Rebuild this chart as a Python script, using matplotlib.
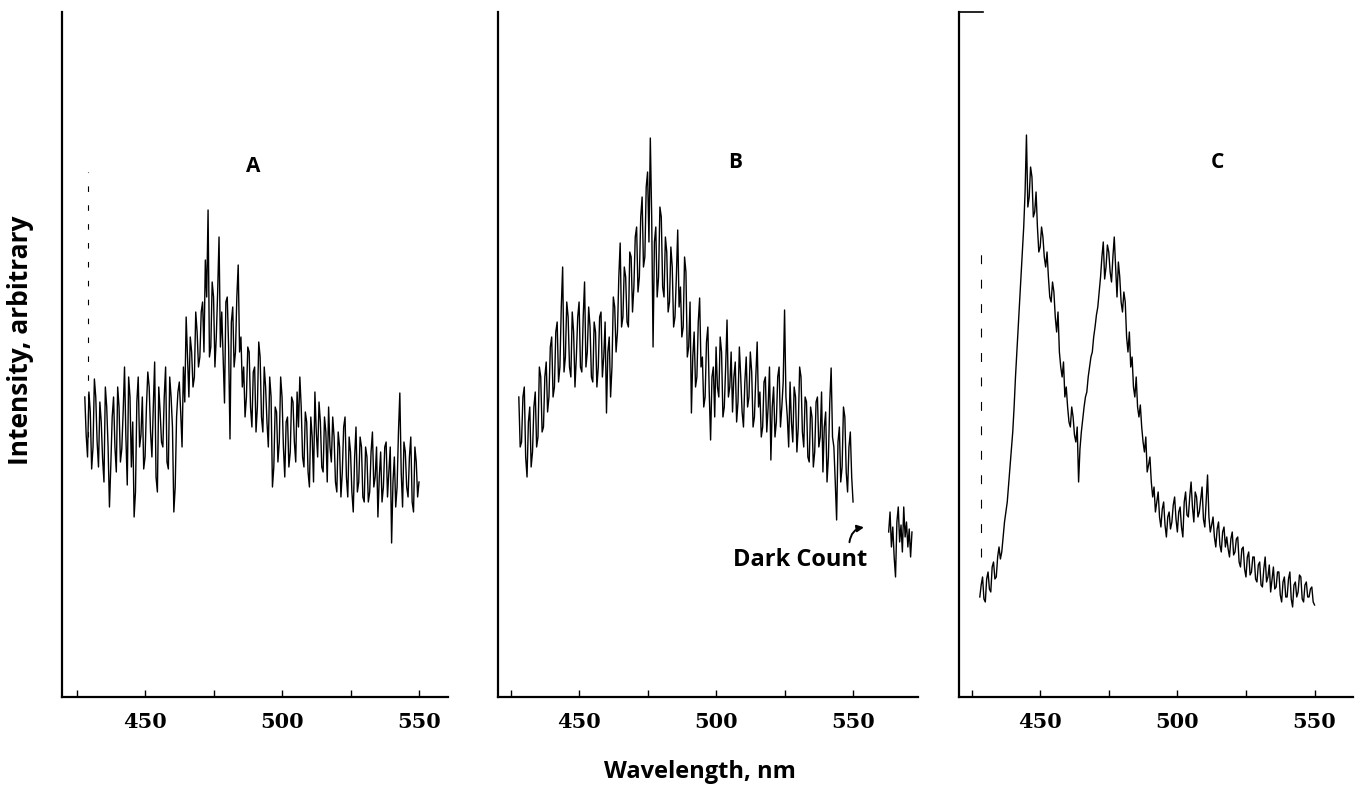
"""Emission spectra A/B/C (intensity vs wavelength), three side-by-side panels."""
import numpy as np
import matplotlib
matplotlib.use("Agg")
import matplotlib.pyplot as plt

# wavelength grid (nm), readings every 0.5 nm
wl = np.arange(428, 550.5, 0.5)

# panel A counts (arbitrary units), pairs = one nm
counts_a = [
    300, 262, 240, 305, 285, 228, 250, 318, 300, 255, 230, 295, 275, 238, 215, 310,
    290, 250, 190, 232, 280, 300,
    250, 225, 310, 290, 235, 248, 285, 330, 260, 212, 320, 300, 230, 275, 180, 205,
    295, 320, 250, 262, 300, 228, 240, 290, 325, 310, 265, 240, 290, 335, 220, 205,
    310, 285, 255, 250, 300, 330, 235, 228, 320, 300, 270, 185, 210, 280, 305, 315,
    285, 250, 330, 295, 380, 340, 300, 360, 345, 310, 320, 385,
    365, 330, 340, 385, 395, 345, 437, 400, 487, 340, 350, 415, 400, 330, 360, 405,
    460, 350,
    385, 340, 294, 395, 400, 350, 258, 375, 390, 330, 345, 400, 432, 345, 360, 310,
    330, 280, 300, 350, 345, 290, 270, 325, 330, 265, 290, 355, 340, 280,
    265, 330, 310, 275, 250, 320, 300, 210,
    230, 290, 285, 235, 255, 320, 300, 250, 220, 275, 280, 230, 245, 300, 295, 255,
    235, 305, 270, 320, 290, 240,
    230, 285, 275, 225, 210, 280, 260, 215, 305, 265, 240, 295, 275, 230, 225, 280,
    265, 215, 290, 250, 235, 280,
    260, 215, 205, 265, 250, 200, 225, 270, 280, 220, 200, 260, 245, 205,
    185, 240, 270, 205, 215, 260, 250, 200, 195, 250, 240, 195, 205, 245, 265, 210,
    220, 250, 180, 220, 245, 195, 210, 250,
    255, 200, 225, 250, 154, 215, 240, 190, 210, 265, 304, 225, 190, 255, 245, 210,
    200, 240, 260, 195, 185, 250, 235, 200,
    215,
]

# panel B counts
counts_b = [
    300, 250, 255, 300, 310, 240, 220, 275, 290, 230, 245, 290, 305, 250, 260, 330,
    320, 265, 270, 320, 335, 285, 300, 350, 360, 300, 310, 365, 375, 315, 330, 390,
    430, 325, 340, 395, 380, 330, 320, 385, 365, 310, 340, 380, 395, 330, 325, 380,
    415, 330, 345, 390, 370, 320, 315, 375, 365, 310, 330, 380, 385, 320, 340, 375,
    284, 345, 360, 300, 330, 400, 390, 345, 365, 420, 454, 370, 380, 430, 420, 375,
    370, 445, 440, 385, 410, 460, 470, 405, 420, 480, 500, 430, 440, 510, 525, 455,
    559, 480, 350, 455, 470, 400, 420, 490, 480, 410, 400, 460, 445, 385, 395, 450,
    430, 370, 380, 420, 467, 390, 410, 360, 370, 440, 425, 340, 350, 395, 284, 340,
    365, 310, 320, 375, 399, 330, 340, 290, 300, 355, 370, 305, 257, 320, 330, 280,
    350, 310, 300, 360, 345, 280, 290, 330, 377, 300, 310, 345, 285, 320, 335, 275,
    295, 350, 320, 285, 270, 315, 340, 290, 300, 345, 325, 270, 280, 320, 355, 290,
    305, 260, 270, 315, 320, 265, 290, 330, 237, 290, 310, 260, 275, 320, 330, 270,
    290, 315, 387, 300, 280, 250, 315, 275, 255, 310, 300, 245, 270, 330, 320, 265,
    250, 300, 295, 240, 235, 290, 280, 230, 245, 295, 300, 250, 260, 305, 225, 270,
    285, 215, 240, 295, 329, 260, 250, 215, 177, 255, 270, 215, 230, 290, 280, 225,
    205, 250, 265, 220,
    195,
]

# panel B dark count (shutter closed)
wl_dark = [563.0, 563.5, 564.0, 564.5, 565.0, 565.5, 566.0, 566.5, 567.0,
           567.5, 568.0, 568.5, 569.0, 569.5, 570.0, 570.5, 571.0, 571.5]
counts_dark = [165, 185, 150, 170, 140, 120, 175, 190, 155,
               172, 145, 190, 160, 175, 150, 168, 140, 165]

# panel C counts
counts_c = [
    100, 112, 120, 98, 95, 118, 125, 108, 105, 130, 135, 118, 120, 140, 150, 138,
    145, 160, 175, 185, 195, 212, 230, 248, 265, 290, 320, 345, 370, 395, 420, 445,
    470, 505, 562, 490, 500, 530, 520, 480, 485, 505, 470, 445, 450, 470, 460, 440,
    430, 445, 420, 400, 395, 415, 405, 380, 365, 385, 345, 330, 320, 335, 300, 310,
    290, 275, 270, 290, 280, 262, 255, 270, 215, 248, 265, 278, 290, 300, 305, 320,
    330, 340, 345, 360, 370, 382, 390, 405, 420, 440, 455, 418, 430, 452, 445, 425,
    415, 440, 460, 430, 400, 435, 420, 395, 385, 405, 395, 360, 345, 365, 330, 340,
    310, 300, 320, 290, 280, 292, 270, 255, 245, 260, 225, 232, 240, 215, 200, 210,
    185, 195, 205, 180, 170, 188, 195, 172, 160, 180, 185, 168, 175, 192, 200, 178,
    165, 185, 190, 170, 160, 195, 205, 182, 180, 200, 215, 190, 175, 205, 200, 180,
    185, 198, 210, 178, 170, 195, 222, 180, 165, 172, 180, 160, 150, 168, 175, 152,
    145, 165, 170, 150, 160, 148, 140, 158, 165, 142, 145, 158, 160, 135, 130, 148,
    150, 128, 120, 140, 145, 122, 125, 140, 140, 118, 115, 132, 135, 112, 110, 128,
    140, 115, 120, 132, 105, 118, 130, 108, 110, 125, 125, 102, 95, 115, 120, 100,
    100, 118, 125, 98, 90, 112, 115, 100, 105, 122, 120, 98, 95, 112, 115, 100,
    100, 108, 110, 95,
    92,
]

# faint pen-lift strokes at the start of traces A and C
pen_a = (429, 260, 525)
pen_c = (428.5, 140, 454)

panel_labels = ["A", "B", "C"]
x_major = [450, 500, 550]
x_minor = [425, 475, 525]

SERIF = ["DejaVu Serif"]
SANS = ["Open Sans", "DejaVu Sans"]

fig = plt.figure(figsize=(13.61, 7.96), dpi=100)

# panel geometry in figure fractions, and x-limits in nm
boxes = [
    ([0.0456, 0.1244, 0.2836, 0.8605], (419.7, 560.6)),
    ([0.3659, 0.1244, 0.3086, 0.8605], (420.4, 573.7)),
    ([0.7046, 0.1244, 0.2895, 0.8605], (420.4, 564.0)),
]
label_pos = [(0.495, 0.774), (0.564, 0.78), (0.657, 0.78)]
series = [counts_a, counts_b, counts_c]

axes = []
for i, ((rect, xlim), counts) in enumerate(zip(boxes, series)):
    ax = fig.add_axes(rect)
    ax.plot(wl, counts, color="black", lw=1.0)
    ax.set_xlim(*xlim)
    ax.set_ylim(0, 685)

    for side in ("top", "right"):
        ax.spines[side].set_visible(False)
    for side in ("left", "bottom"):
        ax.spines[side].set_linewidth(1.6)

    ax.set_yticks([])
    ax.set_xticks(x_major)
    ax.set_xticks(x_minor, minor=True)
    ax.tick_params(axis="x", which="both", direction="in", length=5, width=1,
                   pad=11)
    for t in ax.get_xticklabels():
        t.set_fontfamily(SERIF)
        t.set_fontweight("bold")
        t.set_fontsize(15)

    lx, ly = label_pos[i]
    ax.text(lx, ly, panel_labels[i], transform=ax.transAxes, ha="center",
            va="center", fontsize=15, fontweight="bold", family=SANS)
    axes.append(ax)

ax_a, ax_b, ax_c = axes

# pen-lift strokes
ax_a.vlines(pen_a[0], pen_a[1], pen_a[2], color="black", lw=0.8,
            linestyles=(0, (5, 12)))
ax_c.vlines(pen_c[0], pen_c[1], pen_c[2], color="black", lw=0.8,
            linestyles=(0, (8, 14)))

# short top stub on panel C frame
ax_c.spines["top"].set_visible(True)
ax_c.spines["top"].set_linewidth(1.2)
ax_c.spines["top"].set_bounds(420.4, 429.0)

# dark count on B
ax_b.plot(wl_dark, counts_dark, color="black", lw=1.0)
ax_b.text(530.6, 137, "Dark Count", ha="center", va="center", fontsize=17,
          fontweight="bold", family=SANS)
ax_b.annotate("", xy=(555.0, 170), xytext=(548.6, 152),
              arrowprops=dict(arrowstyle="-|>", color="black", lw=1.4,
                              mutation_scale=10,
                              connectionstyle="arc3,rad=-0.45"))

fig.text(0.0147, 0.573, "Intensity, arbitrary", rotation=90, ha="center",
         va="center", fontsize=19, fontweight="bold", family=SANS)
fig.text(0.514, 0.03, "Wavelength, nm", ha="center", va="center",
         fontsize=17, fontweight="bold", family=SANS)

fig.savefig("out.png", dpi=100)
